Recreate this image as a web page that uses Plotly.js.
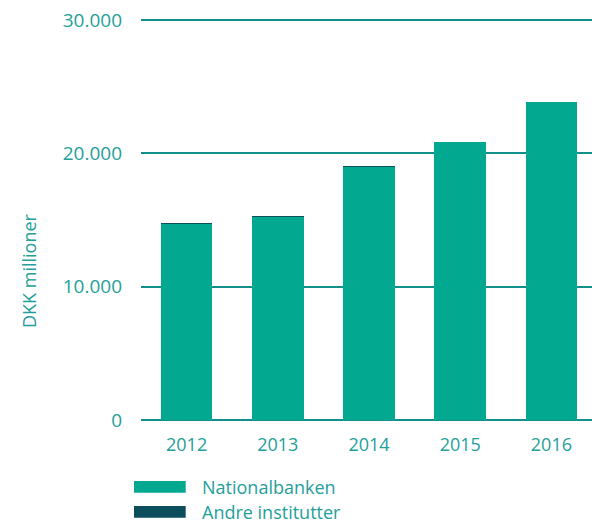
<!DOCTYPE html>
<html>
<head>
<meta charset="utf-8">
<script src="https://cdn.plot.ly/plotly-3.0.1.min.js"></script>
<style>html,body{margin:0;padding:0;background:#fff;overflow:hidden}#chart{width:592px;height:523px}</style>
</head>
<body>
<div id="chart"></div>
<script>
var years = ["2012", "2013", "2014", "2015", "2016"];
var nationalbanken = [14720, 15200, 18970, 20850, 23870];
var andreInstitutter = [90, 110, 80, 0, 0];
var seriesNames = ["Nationalbanken", "Andre institutter"];
var yTickVals = [0, 10000, 20000, 30000];
var yTickText = ["0", "10.000", "20.000", "30.000"];
var yTitle = "DKK millioner";

var teal = "#02a88f";
var dark = "#0c4e5b";
var textColor = "#23a09a";
var gridColor = "#12908c";

var W = 592, H = 523, L = 141, T = 19, B = 103;
var plotW = W - L, plotH = H - T - B;
function px(x) { return (x - L) / plotW; }
function py(y) { return (H - B - y) / plotH; }

var traces = [
  {type: "bar", name: seriesNames[0], x: years, y: nationalbanken, marker: {color: teal}, hoverinfo: "none"},
  {type: "bar", name: seriesNames[1], x: years, y: andreInstitutter, marker: {color: dark}, hoverinfo: "none"}
];

var font = "'Open Sans', sans-serif";
var shapes = [], annotations = [];
// top gridline (Plotly drops the gridline at the plot edge)
var yMax = yTickVals[yTickVals.length - 1];
shapes.push({type: "line", xref: "paper", yref: "y", x0: 0, x1: 1, y0: yMax, y1: yMax, line: {color: gridColor, width: 2}, layer: "below"});
var legendRows = [[481, 492.7], [506, 517.7]];
var legendColors = [teal, dark];
legendRows.forEach(function (r, i) {
  shapes.push({type: "rect", xref: "paper", yref: "paper", x0: px(134), x1: px(185.7), y0: py(r[1]), y1: py(r[0]), fillcolor: legendColors[i], line: {width: 0}});
  annotations.push({xref: "paper", yref: "paper", x: px(200), y: py((r[0] + r[1]) / 2), xanchor: "left", yanchor: "middle", text: seriesNames[i], showarrow: false, font: {family: font, size: 18, color: textColor}});
});
annotations.push({xref: "paper", yref: "paper", x: px(29), y: py(271), xanchor: "center", yanchor: "middle", textangle: -90, text: yTitle, showarrow: false, font: {family: font, size: 18, color: textColor}});

var layout = {
  width: W, height: H,
  margin: {l: L, r: 0, t: T, b: B, pad: 0},
  paper_bgcolor: "#fff", plot_bgcolor: "#fff",
  barmode: "stack", bargap: 0.434,
  showlegend: false,
  font: {family: font, color: textColor},
  xaxis: {type: "category", range: [-0.5, 4.445], showgrid: false, zeroline: false, showline: false, ticks: "", ticklabelstandoff: 12, tickfont: {family: font, size: 18, color: textColor}, fixedrange: true},
  yaxis: {range: [0, 30075], tickvals: yTickVals, ticktext: yTickText, showgrid: true, gridcolor: gridColor, gridwidth: 2, zeroline: true, zerolinecolor: gridColor, zerolinewidth: 2, showline: false, ticks: "", ticklabelstandoff: 18, tickfont: {family: font, size: 19, color: textColor}, fixedrange: true},
  shapes: shapes,
  annotations: annotations
};

Plotly.newPlot("chart", traces, layout, {displayModeBar: false, staticPlot: true});
</script>
</body>
</html>
